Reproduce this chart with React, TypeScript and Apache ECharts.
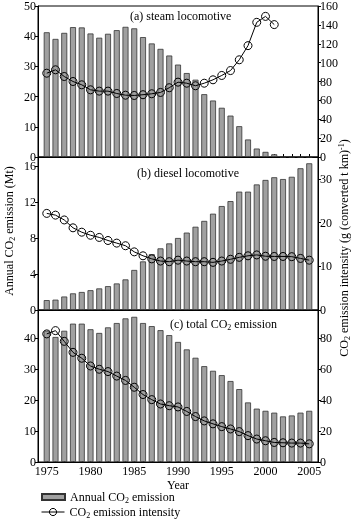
import React, { useEffect, useRef } from "react";
import * as echarts from "echarts";

const years = [1975, 1976, 1977, 1978, 1979, 1980, 1981, 1982, 1983, 1984, 1985, 1986, 1987, 1988, 1989, 1990,
  1991, 1992, 1993, 1994, 1995, 1996, 1997, 1998, 1999, 2000, 2001, 2002, 2003, 2004, 2005];

const steamEmission = [41.3, 39.1, 41.1, 43.0, 42.9, 40.9, 39.5, 40.8, 42.0, 43.1, 42.6, 39.7, 37.6, 35.8, 33.6, 30.6,
  27.8, 25.6, 20.8, 18.7, 16.3, 13.7, 10.2, 5.8, 2.8, 1.7, 0.9, 0, 0, 0, 0];
const steamIntensity = [88.8, 92.4, 85.3, 80, 76.5, 71.2, 69.8, 69.8, 67.3, 65.5, 65.2, 66, 67, 68.4, 73.4, 79.3,
  78.2, 75.5, 78.2, 81.8, 86.4, 91.6, 103, 118, 142.7, 149, 140.3, null, null, null, null];

const dieselEmission = [1.1, 1.15, 1.5, 1.85, 2.0, 2.2, 2.4, 2.65, 2.95, 3.4, 4.45, 5.4, 6.2, 6.85, 7.4, 8.0,
  8.6, 9.25, 9.9, 10.7, 11.55, 12.1, 13.15, 13.15, 13.95, 14.45, 14.75, 14.55, 14.8, 15.75, 16.3];
const dieselIntensity = [22.1, 21.7, 20.6, 18.8, 17.8, 17.1, 16.6, 15.9, 15.3, 14.7, 13.3, 12.4, 11.7, 11.2, 11.05, 11.4,
  11.2, 11.05, 11.05, 10.9, 11.2, 11.6, 12.05, 12.4, 12.6, 12.3, 12.25, 12.25, 12.2, 11.8, 11.4];

const totalEmission = [42.3, 40.3, 42.3, 44.6, 44.6, 42.8, 41.6, 43.4, 44.8, 46.3, 46.8, 44.8, 43.8, 42.5, 40.9, 38.7,
  36.3, 33.6, 30.9, 29.4, 28, 26.1, 23.5, 19.2, 17.2, 16.5, 15.9, 14.7, 15, 15.9, 16.5];
const totalIntensity = [82.6, 84.7, 77.8, 70.7, 66.9, 61.9, 59.8, 58.3, 55.4, 52.6, 48.2, 43.5, 40.2, 37.4, 36.3, 35.5,
  32.6, 29.3, 26.5, 24.6, 22.8, 21.3, 19.6, 17, 14.8, 13.7, 12.6, 12.4, 12.2, 12.2, 11.7];

const BAR_NAME = "Annual CO2 emission";
const LINE_NAME = "CO2 emission intensity";

const FONT = '"Liberation Serif", "Times New Roman", serif';

export default function App() {
  const ref = useRef<HTMLDivElement>(null);
  useEffect(() => {
    if (!ref.current) return;
    const chart = echarts.init(ref.current, null, { renderer: "svg" });
    const pair = (arr: (number | null)[]) => years.map((y, i) => [y, arr[i]]);

    const grids = [
      { left: 38, right: 37, top: 5, height: 152 },
      { left: 38, right: 37, top: 157, height: 153 },
      { left: 38, right: 37, top: 310, height: 152 },
    ].map((g) => ({ ...g, show: true, borderColor: "#000", borderWidth: 1, backgroundColor: "transparent" }));

    const xAxes = [0, 1, 2].map((i) => ({
      type: "value",
      gridIndex: i,
      min: 1974,
      max: 2006,
      interval: 1,
      axisLine: { show: true, lineStyle: { color: "#000", width: 1 } },
      axisTick: { show: true, inside: true, length: 3, lineStyle: { color: "#000" } },
      splitLine: { show: false },
      axisLabel: {
        show: i === 2,
        color: "#000",
        fontFamily: FONT,
        fontSize: 12,
        margin: 3,
        showMinLabel: false,
        showMaxLabel: false,
        formatter: (v: number) => (v % 5 === 0 ? String(v) : ""),
      },
    }));

    const yAx = (grid: number, pos: "left" | "right", max: number, interval: number) => ({
      type: "value",
      gridIndex: grid,
      position: pos,
      min: 0,
      max,
      interval,
      axisLine: { show: true, lineStyle: { color: "#000", width: 1 } },
      axisTick: { show: true, inside: false, length: 3, lineStyle: { color: "#000" } },
      splitLine: { show: false },
      axisLabel: {
        color: "#000",
        fontFamily: FONT,
        fontSize: 12,
        margin: 2,
        formatter: (v: number) => (v % interval === 0 ? String(v) : ""),
      },
    });

    const yAxes = [
      yAx(0, "left", 50, 10),
      yAx(0, "right", 160, 20),
      yAx(1, "left", 17, 4),
      yAx(1, "right", 35, 10),
      yAx(2, "left", 49, 10),
      yAx(2, "right", 98, 20),
    ];

    const barSeries = (arr: number[], i: number) => ({
      type: "bar",
      name: BAR_NAME,
      xAxisIndex: i,
      yAxisIndex: i * 2,
      data: pair(arr),
      barWidth: 6,
      itemStyle: { color: "#a0a0a0", borderColor: "#333", borderWidth: 0.8 },
    });
    const lineSeries = (arr: (number | null)[], i: number) => ({
      type: "line",
      name: LINE_NAME,
      xAxisIndex: i,
      yAxisIndex: i * 2 + 1,
      data: pair(arr),
      symbol: "circle",
      symbolSize: 8,
      showAllSymbol: true,
      lineStyle: { color: "#000", width: 1 },
      itemStyle: { color: "rgba(0,0,0,0)", borderColor: "#000", borderWidth: 1 },
      z: 3,
    });

    const rich = {
      a: { fontSize: 12, fontFamily: FONT, color: "#000" },
      s: { fontSize: 8, fontFamily: FONT, color: "#000", padding: [6, 0, 0, 0] },
      p: { fontSize: 8, fontFamily: FONT, color: "#000", padding: [0, 0, 6, 0] },
    };

    const textEl = (x: number, y: number, text: string, extra: any = {}) => ({
      type: "text",
      x,
      y,
      ...extra,
      style: {
        text,
        rich,
        fontFamily: FONT,
        fontSize: 12,
        fill: "#000",
        align: extra.align || "left",
        verticalAlign: "middle",
      },
    });

    const legendBase = {
      orient: "vertical",
      left: 41,
      itemWidth: 23,
      padding: 0,
      formatter: (name: string) =>
        name === BAR_NAME ? "{a|Annual CO}{s|2}{a| emission}" : "{a|CO}{s|2}{a| emission intensity}",
      textStyle: { rich },
    };

    chart.setOption({
      animation: false,
      grid: grids,
      xAxis: xAxes,
      yAxis: yAxes,
      legend: [
        { ...legendBase, top: 491, itemHeight: 6, data: [{ name: BAR_NAME, icon: "rect" }] },
        {
          ...legendBase,
          top: 506,
          itemHeight: 9,
          data: [
            {
              name: LINE_NAME,
              itemStyle: { color: "rgba(0,0,0,0)", borderColor: "#000", borderWidth: 1 },
              lineStyle: { color: "#000", width: 1 },
            },
          ],
        },
      ],
      series: [
        barSeries(steamEmission, 0),
        lineSeries(steamIntensity, 0),
        barSeries(dieselEmission, 1),
        lineSeries(dieselIntensity, 1),
        barSeries(totalEmission, 2),
        lineSeries(totalIntensity, 2),
      ],
      graphic: [
        textEl(130, 16, "{a|(a) steam locomotive}"),
        textEl(137, 173, "{a|(b) diesel locomotive}"),
        textEl(170, 324, "{a|(c) total CO}{s|2}{a| emission}"),
        textEl(178, 485, "{a|Year}", { align: "center" }),
        {
          type: "text",
          x: 9,
          y: 231,
          rotation: Math.PI / 2,
          style: {
            text: "{a|Annual CO}{s|2}{a| emission (Mt)}",
            rich,
            fontFamily: FONT,
            fontSize: 12,
            fill: "#000",
            align: "center",
            verticalAlign: "middle",
          },
        },
        {
          type: "text",
          x: 344,
          y: 248,
          rotation: Math.PI / 2,
          style: {
            text: "{a|CO}{s|2}{a| emission intensity (g (converted t km)}{p|-1}{a|)}",
            rich,
            fontFamily: FONT,
            fontSize: 12,
            fill: "#000",
            align: "center",
            verticalAlign: "middle",
          },
        },
      ],
    });
    return () => chart.dispose();
  }, []);
  return <div ref={ref} style={{ position: "fixed", left: 0, top: 0, width: 355, height: 519 }} />;
}
